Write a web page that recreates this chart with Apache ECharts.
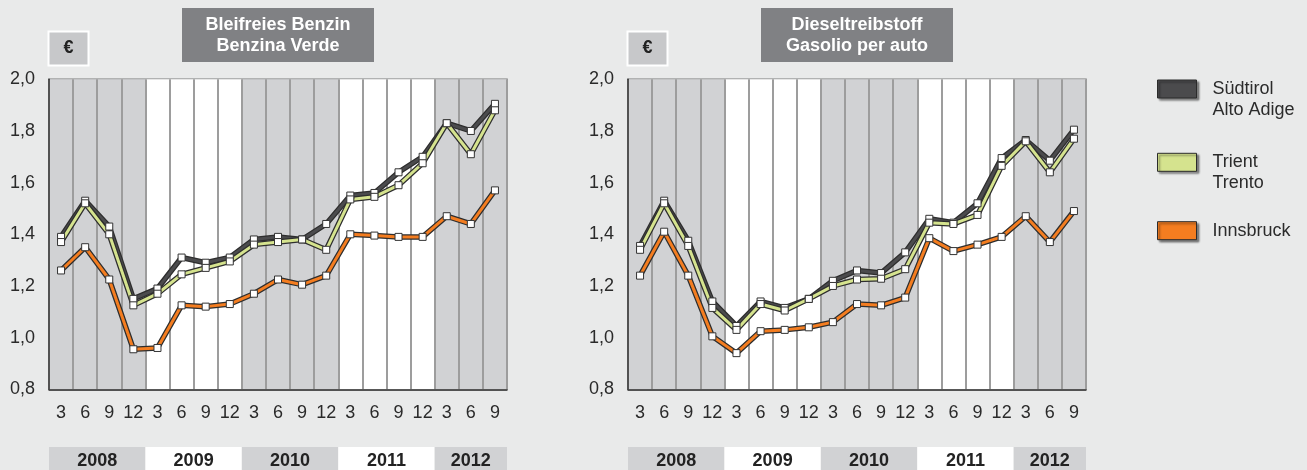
<!DOCTYPE html>
<html>
<head>
<meta charset="utf-8">
<script src="https://cdn.jsdelivr.net/npm/echarts@6/dist/echarts.min.js"></script>
<style>
html, body { margin: 0; padding: 0; background: #e9eaea; }
#main { width: 1307px; height: 470px; }
</style>
</head>
<body>
<div id="main"></div>
<script>
// Monatswerte (Quartale) 2008-2012
var months = ['3','6','9','12','3','6','9','12','3','6','9','12','3','6','9','12','3','6','9'];
var years = ['2008','2009','2010','2011','2012'];
var yMin = 0.8, yMax = 2.0, yStep = 0.2;

var seriesNames = ['Südtirol', 'Trient', 'Innsbruck'];
var seriesSubNames = ['Alto Adige', 'Trento', ''];
var seriesColors = ['#4b4b4d', '#d5e38e', '#f47d20'];

// Bleifreies Benzin / Benzina Verde
var benzinSuedtirol = [1.39, 1.53, 1.43, 1.15, 1.19, 1.31, 1.29, 1.31, 1.38, 1.39, 1.38, 1.44, 1.55, 1.56, 1.64, 1.70, 1.83, 1.80, 1.905];
var benzinTrient = [1.37, 1.52, 1.40, 1.125, 1.17, 1.245, 1.27, 1.295, 1.36, 1.37, 1.38, 1.34, 1.535, 1.545, 1.59, 1.675, 1.83, 1.71, 1.88];
var benzinInnsbruck = [1.26, 1.35, 1.225, 0.955, 0.96, 1.125, 1.12, 1.13, 1.17, 1.225, 1.205, 1.24, 1.40, 1.395, 1.39, 1.39, 1.47, 1.44, 1.57];

// Dieseltreibstoff / Gasolio per auto
var dieselSuedtirol = [1.355, 1.53, 1.375, 1.14, 1.045, 1.14, 1.115, 1.15, 1.22, 1.26, 1.25, 1.33, 1.46, 1.445, 1.52, 1.695, 1.765, 1.685, 1.805];
var dieselTrient = [1.34, 1.52, 1.355, 1.115, 1.03, 1.13, 1.105, 1.15, 1.20, 1.225, 1.228, 1.265, 1.445, 1.44, 1.475, 1.665, 1.76, 1.64, 1.77];
var dieselInnsbruck = [1.24, 1.41, 1.24, 1.005, 0.94, 1.025, 1.03, 1.04, 1.06, 1.13, 1.125, 1.155, 1.385, 1.335, 1.36, 1.39, 1.47, 1.37, 1.49];

var font = '"Liberation Sans", Arial, Helvetica, sans-serif';
var bandColors = ['#d1d2d4', '#ffffff'];

// Jahresgruppen aus den Monaten bilden (neues Jahr bei Monat 3)
var yearRanges = [];
months.forEach(function (m, i) {
    if (m === '3') yearRanges.push([i, i]);
    else yearRanges[yearRanges.length - 1][1] = i;
});
function isYearStart(i) { return months[i] === '3'; }

var myChart = echarts.init(document.getElementById('main'));

var plotLefts = [49, 628];
var grids = [], xAxes = [], yAxes = [], series = [];

plotLefts.forEach(function (left, g) {
    // Hauptdiagramm
    grids.push({ left: left, top: 79.3, width: 458, height: 310, show: true, borderColor: '#7a7a7a', borderWidth: 1.5 });
    // Jahresleiste
    grids.push({ left: left, top: 447, width: 458, height: 30, show: false });

    xAxes.push({
        type: 'category', gridIndex: g * 2, data: months, boundaryGap: true,
        axisLine: { lineStyle: { color: '#3a3a3a', width: 1.5 } },
        axisTick: { show: false },
        axisLabel: { interval: 0, margin: 15, fontSize: 18, lineHeight: 18, color: '#2a2a2a', fontFamily: font },
        splitLine: { show: true, interval: 0, lineStyle: { color: '#9d9d9d', width: 2 } },
        splitArea: { show: true, interval: function (i) { return isYearStart(i); }, areaStyle: { color: bandColors } }
    });
    xAxes.push({
        type: 'category', gridIndex: g * 2 + 1, data: months, boundaryGap: true,
        axisLine: { show: false }, axisTick: { show: false }, axisLabel: { show: false },
        splitLine: { show: false },
        splitArea: { show: true, interval: function (i) { return isYearStart(i); }, areaStyle: { color: bandColors } }
    });
    yAxes.push({
        type: 'value', gridIndex: g * 2, min: yMin, max: yMax, interval: yStep,
        axisLine: { show: true, lineStyle: { color: '#3a3a3a', width: 1.5 } },
        axisTick: { show: false },
        axisLabel: {
            margin: 14, fontSize: 18, color: '#2a2a2a', fontFamily: font,
            formatter: function (v) { return v.toFixed(1).replace('.', ','); }
        },
        splitLine: { show: true, lineStyle: { color: '#9d9d9d', width: 2 } }
    });
    yAxes.push({
        type: 'value', gridIndex: g * 2 + 1, min: 0, max: 1, show: false, splitLine: { show: false }
    });
});

function addLines(g, dataSets) {
    dataSets.forEach(function (d, k) {
        // dunkle Kontur
        series.push({
            type: 'line', xAxisIndex: g * 2, yAxisIndex: g * 2, data: d, silent: true,
            symbol: 'none', lineStyle: { color: '#2e2e2e', width: 5.5 }, z: 3
        });
        series.push({
            name: seriesNames[k], type: 'line', xAxisIndex: g * 2, yAxisIndex: g * 2, data: d,
            symbol: 'rect', symbolSize: 7, showAllSymbol: true,
            lineStyle: { color: seriesColors[k], width: 3 },
            itemStyle: { color: '#ffffff', borderColor: '#333333', borderWidth: 1 },
            z: 3
        });
    });
    series.push({
        type: 'custom', xAxisIndex: g * 2 + 1, yAxisIndex: g * 2 + 1, data: yearRanges, silent: true,
        renderItem: function (params, api) {
            var s = api.coord([api.value(0), 0.37]);
            var e = api.coord([api.value(1), 0.37]);
            return {
                type: 'text', x: (s[0] + e[0]) / 2, y: s[1],
                style: { text: years[params.dataIndex], align: 'center', verticalAlign: 'middle',
                    font: 'bold 18px ' + font, fill: '#222222' }
            };
        }
    });
}
addLines(0, [benzinSuedtirol, benzinTrient, benzinInnsbruck]);
addLines(1, [dieselSuedtirol, dieselTrient, dieselInnsbruck]);

// zweizeilige Einträge: leere erste Zeile, damit die erste Textzeile neben dem Kästchen steht
var legendTops = [57.5, 130.8, 220.2];
var legends = seriesNames.map(function (n, i) {
    var two = seriesSubNames[i] !== '';
    return {
        orient: 'vertical', left: 1157, top: legendTops[i], padding: 0,
        itemWidth: 39, itemHeight: 18, icon: 'rect', selectedMode: false,
        formatter: function (name) { return two ? '\n' + name + '\n' + seriesSubNames[i] : name; },
        textStyle: { fontSize: 18, lineHeight: 21, color: '#2b2b2b', fontFamily: font, padding: [0, 0, 0, 11] },
        data: [{
            name: n,
            itemStyle: { color: seriesColors[i], borderColor: '#2b2b2b', borderWidth: 1,
                shadowColor: 'rgba(0,0,0,0.45)', shadowBlur: 2, shadowOffsetX: 2, shadowOffsetY: 2 }
        }]
    };
});

function headerBox(x, text) {
    return {
        type: 'group', children: [
            { type: 'rect', shape: { x: x, y: 8, width: 192, height: 54 }, style: { fill: '#808184' } },
            { type: 'text', x: x + 96, y: 35.5, style: { text: text, align: 'center', verticalAlign: 'middle',
                font: 'bold 18px ' + font, lineHeight: 21, fill: '#ffffff' } }
        ]
    };
}
function euroBox(x) {
    return {
        type: 'group', children: [
            { type: 'rect', shape: { x: x, y: 31.5, width: 40, height: 34 }, style: { fill: '#c7c8ca', stroke: '#ffffff', lineWidth: 2 } },
            { type: 'text', x: x + 20, y: 48.5, style: { text: '€', align: 'center', verticalAlign: 'middle',
                font: 'bold 18px ' + font, fill: '#222222' } }
        ]
    };
}

var option = {
    animation: false,
    backgroundColor: '#e9eaea',
    grid: grids,
    xAxis: xAxes,
    yAxis: yAxes,
    legend: legends,
    graphic: [
        headerBox(182, 'Bleifreies Benzin\nBenzina Verde'),
        headerBox(761, 'Dieseltreibstoff\nGasolio per auto'),
        euroBox(48.5),
        euroBox(627.5)
    ],
    series: series
};
myChart.setOption(option);
</script>
</body>
</html>
